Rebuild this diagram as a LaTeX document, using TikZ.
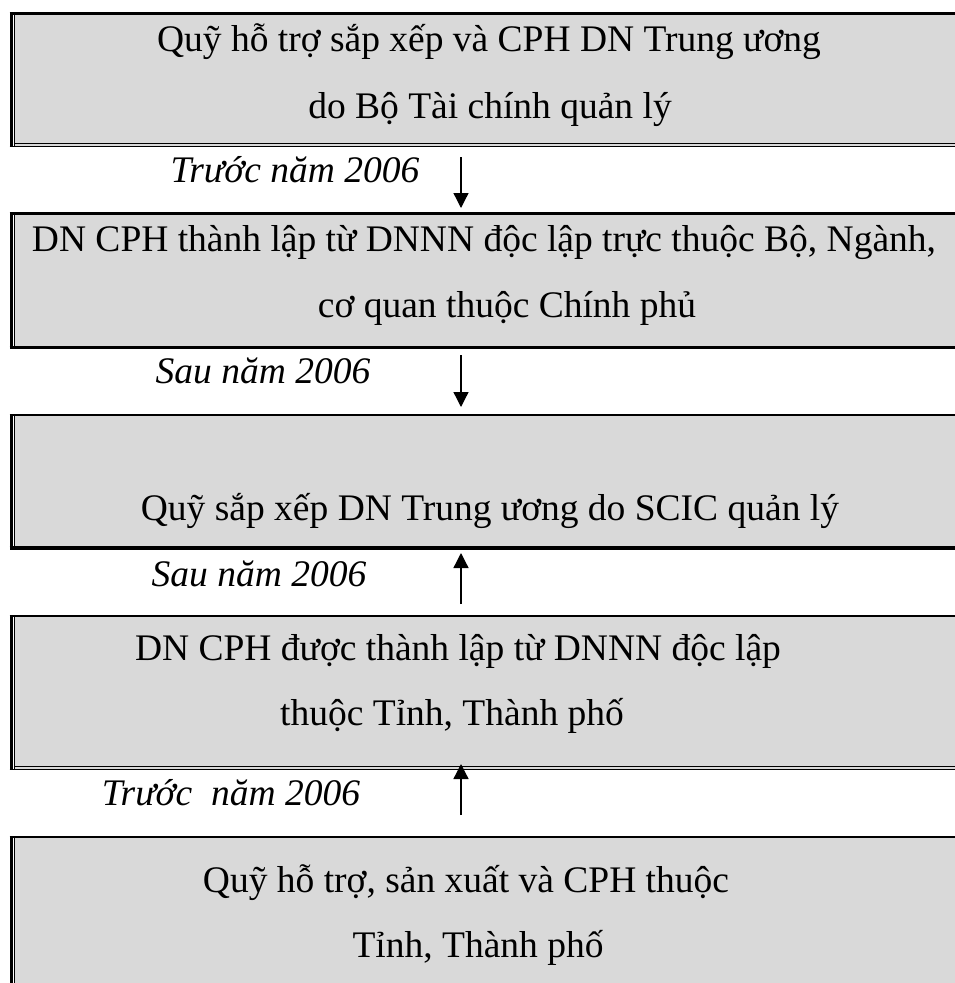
\documentclass[tikz,border=0pt]{standalone}
\usepackage{fontspec}
\setmainfont{Liberation Serif}
\usetikzlibrary{arrows.meta}
\definecolor{boxgray}{HTML}{D9D9D9}
\tikzset{
  txt/.style={anchor=base, inner sep=0pt, font=\fontsize{37.5}{45}\selectfont},
  lbl/.style={anchor=base, inner sep=0pt, font=\fontsize{37.5}{45}\selectfont\itshape},
  arr/.style={line width=1.3pt, -{Triangle[length=15pt,width=15pt]}},
  thickln/.style={line width=2.8pt},
  thinln/.style={line width=1.1pt}
}
% #1 top, #2 bottom, #3 = 1 for double bottom line
\newcommand{\grbox}[3]{%
  \fill[boxgray] (14,#1) rectangle (970,#2);
  \draw[thickln] (9.7,#1) -- (970,#1);
  \draw[thickln] (11.2,#1) -- (11.2,#2);
  \draw[thinln] (14.3,#1) -- (14.3,#2);
  \ifnum#3=1
    \draw[line width=1.6pt] (9.7,#2) -- (970,#2);
    \draw[thinln] (14,#2-3.3) -- (970,#2-3.3);
  \else
    \draw[line width=3.4pt] (9.7,#2) -- (970,#2);
  \fi
}
\begin{document}
\begin{tikzpicture}[x=1pt,y=-1pt]
\useasboundingbox (0,0) rectangle (954,983);
\grbox{13.3}{146.5}{1}
\grbox{213.5}{347.5}{0}
\grbox{415}{548}{0}
\grbox{616}{769.5}{1}
\grbox{837}{995}{0}
% box texts
\node[txt] (b1a) at (489,51) {Quỹ hỗ trợ sắp xếp và CPH DN Trung ương};
\node[txt] (b1b) at (490,118) {do Bộ Tài chính quản lý};
\node[txt] (b2a) at (484,251) {DN CPH thành lập từ DNNN độc lập trực thuộc Bộ, Ngành,};
\node[txt] (b2b) at (507,317) {cơ quan thuộc Chính phủ};
\node[txt] (b3a) at (490,520) {Quỹ sắp xếp DN Trung ương do SCIC quản lý};
\node[txt] (b4a) at (458,660) {DN CPH được thành lập từ DNNN độc lập};
\node[txt] (b4b) at (452,725) {thuộc Tỉnh, Thành phố};
\node[txt] (b5a) at (466,892) {Quỹ hỗ trợ, sản xuất và CPH thuộc};
\node[txt] (b5b) at (478,957) {Tỉnh, Thành phố};
% labels
\node[lbl] (l1) at (295,182) {Trước năm 2006};
\node[lbl] (l2) at (263,383) {Sau năm 2006};
\node[lbl] (l3) at (259,586) {Sau năm 2006};
\node[lbl] (l4) at (231,805) {Trước\ \ năm 2006};
% arrow ends
\coordinate (a1s) at (461,157);
\coordinate (a1e) at (461,208);
\coordinate (a2s) at (461,355);
\coordinate (a2e) at (461,407);
\coordinate (a3s) at (461,604);
\coordinate (a3e) at (461,553);
\coordinate (a4s) at (461,815);
\coordinate (a4e) at (461,764);
\draw[arr] (a1s) -- (a1e);
\draw[arr] (a2s) -- (a2e);
\draw[arr] (a3s) -- (a3e);
\draw[arr] (a4s) -- (a4e);
\end{tikzpicture}
\end{document}
